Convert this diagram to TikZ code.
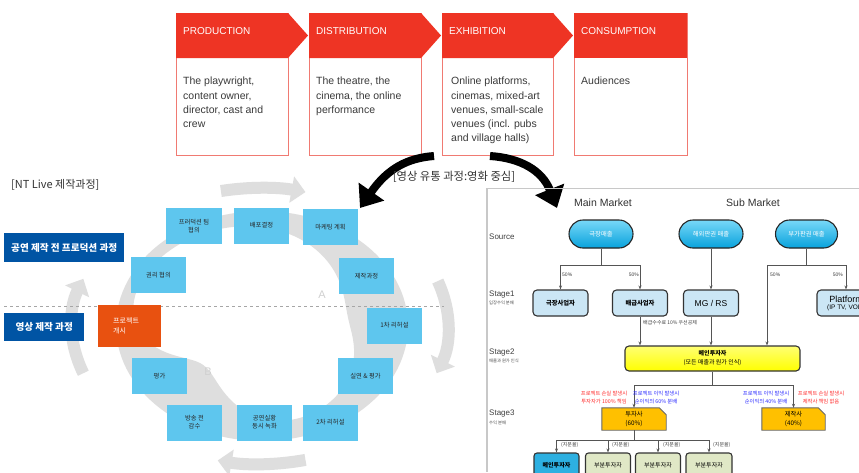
\documentclass[tikz,border=0pt]{standalone}
\usepackage{fontspec}
\setmainfont{Liberation Sans}
\newfontfamily\kr{Noto Sans CJK KR}
\usetikzlibrary{arrows.meta,shapes.misc,calc}

\definecolor{chevred}{HTML}{EE3424}
\definecolor{chevline}{HTML}{F07A72}
\definecolor{bodytext}{HTML}{3A3A3A}
\definecolor{navy}{HTML}{0054A4}
\definecolor{skybox}{HTML}{5EC6EE}
\definecolor{orangebox}{HTML}{E85110}
\definecolor{ringgray}{HTML}{DEDEDE}
\definecolor{lettergray}{HTML}{D0D0D0}
\definecolor{pillA}{HTML}{78D8F8}
\definecolor{pillB}{HTML}{08A2DC}
\definecolor{paleblue}{HTML}{CBE6F5}
\definecolor{gold}{HTML}{FFC000}
\definecolor{olive}{HTML}{E0E8C6}
\definecolor{lossred}{HTML}{FF2A2A}
\definecolor{gainblue}{HTML}{2A2AFF}
\definecolor{framegray}{HTML}{C8C8C8}
\definecolor{linkgray}{HTML}{555555}

\pgfdeclarelayer{background}
\pgfsetlayers{background,main}

\begin{document}
\begin{tikzpicture}[x=1pt,y=-1pt,
  declare function={ringw(\t)=11+48*exp(-((\t-8)/55)*((\t-8)/55))
      +50*exp(-((\t+135)/35)*((\t+135)/35))+50*exp(-((\t-225)/35)*((\t-225)/35));},
  cardline/.style={draw=chevline,line width=1pt,fill=white},
  hdr/.style={text=white,font=\fontsize{10}{12}\selectfont,anchor=west,inner sep=0pt},
  cardtext/.style={text=bodytext,font=\fontsize{10.5}{14.2}\selectfont,align=left,anchor=north west,inner sep=0pt},
  banner/.style={fill=navy,text=white,font=\kr\bfseries\fontsize{9.6}{11}\selectfont,inner sep=0pt,minimum height=29pt},
  stepbox/.style={fill=skybox,minimum width=55pt,minimum height=36pt,inner sep=1pt,
      font=\kr\fontsize{6.3}{8}\selectfont,text=black!85,align=center},
  outarrow/.style={draw=ringgray,line width=12pt,-{Triangle[width=26pt,length=14pt]}},
  bigarrow/.style={draw=black,line width=8pt,-{Triangle[width=30pt,length=20pt]}},
  pill/.style={rounded rectangle,draw=black!85,line width=1.1pt,top color=pillA,bottom color=pillB,
      minimum width=64pt,minimum height=28pt,inner sep=0pt,text=white,font=\kr\fontsize{6.3}{8}\selectfont},
  firstbox/.style={rectangle,rounded corners=4pt,draw=black!80,line width=1.1pt,fill=paleblue,
      minimum width=55pt,minimum height=26pt,inner sep=0pt,font=\kr\bfseries\fontsize{6.3}{8}\selectfont,align=center},
  mainbox/.style={rectangle,rounded corners=4pt,draw=black!80,line width=1.1pt,top color=yellow!55,bottom color=yellow,
      minimum width=175pt,minimum height=25pt,inner sep=0pt,font=\kr\fontsize{6}{9}\selectfont,align=center},
  sharebox/.style={rectangle,minimum width=64pt,minimum height=22pt,inner sep=0pt,
      font=\kr\fontsize{6.3}{9}\selectfont,align=center},
  sharefill/.style={draw=black!60,line width=0.9pt,fill=gold},
  investbox/.style={rectangle,rounded corners=3pt,draw=black!80,line width=1.1pt,fill=olive,
      minimum width=45pt,minimum height=24pt,inner sep=0pt,font=\kr\fontsize{6}{8}\selectfont},
  link/.style={draw=linkgray,line width=0.7pt},
  linkarrow/.style={draw=linkgray,line width=0.7pt,-{Stealth[length=4pt,width=3pt]}},
  tiny/.style={font=\fontsize{5}{6}\selectfont,text=black!75,inner sep=0pt},
  tinykr/.style={font=\kr\fontsize{5}{6}\selectfont,text=black!75,inner sep=0pt},
  note/.style={font=\kr\fontsize{5.3}{8}\selectfont,inner sep=0pt,align=center},
  stagelbl/.style={font=\fontsize{8}{9}\selectfont,text=black!75,anchor=west,inner sep=0pt},
  stagesub/.style={font=\kr\fontsize{4.3}{5}\selectfont,text=black!70,anchor=west,inner sep=0pt}
]
\useasboundingbox (0,0) rectangle (859,472);
\clip (0,0) rectangle (859,472);
\begin{pgfonlayer}{background}
\fill[white] (0,0) rectangle (859,472);
\end{pgfonlayer}

% ---------- value chain cards ----------
\draw[cardline] (176,13) rectangle (288,155);
\fill[chevred] (176,13) -- (288,13) -- (308,35.5) -- (288,58) -- (176,58) -- cycle;
\node[hdr] (h1) at (183,31) {PRODUCTION};
\node[cardtext] (t1) at (183,77) {The playwright,\\content owner,\\director, cast and\\crew};

\draw[cardline] (309,13) rectangle (421,155);
\fill[chevred] (309,13) -- (421,13) -- (441,35.5) -- (421,58) -- (309,58) -- cycle;
\node[hdr] (h2) at (316,31) {DISTRIBUTION};
\node[cardtext] (t2) at (316,77) {The theatre, the\\cinema, the online\\performance};

\draw[cardline] (442,13) rectangle (553,155);
\fill[chevred] (442,13) -- (553,13) -- (573,35.5) -- (553,58) -- (442,58) -- cycle;
\node[hdr] (h3) at (449,31) {EXHIBITION};
\node[cardtext] (t3) at (451,77) {Online platforms,\\cinemas, mixed-art\\venues, small-scale\\venues (incl. pubs\\and village halls)};

\draw[cardline] (574,13) rectangle (687,155);
\fill[chevred] (574,13) rectangle (687,58);
\node[hdr] (h4) at (581,31) {CONSUMPTION};
\node[cardtext] (t4) at (581,77) {Audiences};

% ---------- split arrows ----------
\coordinate (splitL) at (434,156);
\coordinate (tipL) at (360,208);
\coordinate (splitR) at (490,156);
\coordinate (tipR) at (557,208);
\draw[bigarrow] (splitL) .. controls (408,158) and (388,168) .. (tipL);
\draw[bigarrow] (splitR) .. controls (520,158) and (542,170) .. (tipR);
\node[font=\kr\fontsize{11.3}{13}\selectfont,text=black!80,inner sep=0pt] (flowtitle) at (454,177) {[영상 유통 과정:영화 중심]};

% ---------- NT Live cycle ----------
\node[font=\kr\fontsize{11}{12}\selectfont,text=black!80,anchor=west,inner sep=0pt] (ntitle) at (11,185) {[NT Live 제작과정]};

% outer circulating arrows
\draw[outarrow] ($(260,326)+(-102:188 and 138)$) arc[start angle=-102,end angle=-76,x radius=188,y radius=138];
\draw[outarrow] ($(260,326)+(-19:188 and 138)$) arc[start angle=-19,end angle=20,x radius=188,y radius=138];
\draw[outarrow] ($(260,326)+(76:188 and 138)$) arc[start angle=76,end angle=103,x radius=188,y radius=138];
\draw[outarrow] ($(260,326)+(-200:188 and 138)$) arc[start angle=-200,end angle=-160,x radius=188,y radius=138];

% inner ring of varying width
\fill[ringgray]
  plot[domain=-140:220,samples=120] ({262+146*cos(\x)},{326-115*sin(\x)})
  -- plot[domain=220:-140,samples=120] ({262+(146-ringw(\x))*cos(\x)},{326-(115-ringw(\x))*sin(\x)})
  -- cycle;
\node[font=\fontsize{11}{12}\selectfont,text=lettergray,inner sep=0pt] (lblA) at (322,295) {A};
\node[font=\fontsize{11}{12}\selectfont,text=lettergray,inner sep=0pt] (lblB) at (208,372) {B};

\draw[dashed,draw=black!35,line width=0.6pt] (4,306) -- (444,306);

\node[banner,minimum width=120pt,anchor=north west] (pre) at (4,233) {공연 제작 전 프로덕션 과정};
\node[banner,minimum width=80pt,anchor=north west,minimum height=28pt] (film) at (4,313) {영상 제작 과정};

\node[stepbox,minimum width=56pt] (team) at (194,226) {프러덕션 팀\\협의};
\node[stepbox] (deploy) at (261.5,225.5) {배포결정};
\node[stepbox] (market) at (330.5,227) {마케팅 계획};
\node[stepbox] (prodproc) at (366.5,276) {제작과정};
\node[stepbox] (rights) at (158.5,275) {권리 협의};
\node[stepbox] (reh1) at (394.5,325.5) {1차 리허설};
\node[stepbox] (perf) at (365.5,376) {실연 \& 평가};
\node[stepbox] (reh2) at (330.5,422.5) {2차 리허설};
\node[stepbox] (live) at (264.5,422.5) {공연실황\\동시 녹화};
\node[stepbox] (review) at (194.5,422.5) {방송 전\\감수};
\node[stepbox] (eval) at (159.5,376) {평가};
\node[fill=orangebox,minimum width=63pt,minimum height=42pt,inner sep=0pt,anchor=north west] (start) at (98,305) {};
\node[font=\kr\fontsize{7}{10}\selectfont,text=white,align=left,anchor=west,inner sep=0pt] (starttxt) at (start.west) [xshift=15pt] {프로젝트\\개시};

% ---------- distribution flow chart ----------
\draw[framegray,line width=0.5pt] (487,188) -- (859,188);
\draw[framegray,line width=1.8pt] (487,188) -- (487,472);

\node[font=\fontsize{10.5}{12}\selectfont,text=black!80,inner sep=0pt] (mainmk) at (603,203) {Main Market};
\node[font=\fontsize{10.5}{12}\selectfont,text=black!80,inner sep=0pt] (submk) at (753,203) {Sub Market};

\node[stagelbl] (lsrc) at (489,237) {Source};
\node[stagelbl] (ls1) at (489,295) {Stage1};
\node[stagesub] (ls1s) at (489,303) {입장수익 분배};
\node[stagelbl] (ls2) at (489,353) {Stage2};
\node[stagesub] (ls2s) at (489,361) {매출과 원가 인식};
\node[stagelbl] (ls3) at (489,414) {Stage3};
\node[stagesub] (ls3s) at (489,423) {수익 분배};

\node[pill] (src1) at (601,234) {극장매출};
\node[pill] (src2) at (711,234) {해외판권 매출};
\node[pill,minimum width=62pt] (src3) at (806.5,234) {부가판권 매출};

\node[firstbox] (theatre) at (560.5,303) {극장사업자};
\node[firstbox] (distr) at (640,303) {배급사업자};
\node[firstbox,font=\fontsize{8.5}{10}\selectfont] (mgrs) at (711,303) {MG / RS};
\node[firstbox,minimum width=58pt,font=\fontsize{6.5}{8}\selectfont] (platform) at (846,303)
   {{\fontsize{9}{10}\selectfont Platform}\\[-1pt](IP TV, VOD)};

\node[mainbox] (lead) at (712.5,358.5) {{\bfseries 메인투자자}\\(모든 매출과 원가 인식)};

\node[sharebox] (inv) at (634,419) {투자사\\(60\%)};
\node[sharebox,minimum width=63pt] (maker) at (793.5,419) {제작사\\(40\%)};
\begin{pgfonlayer}{background}
\draw[sharefill] (inv.south west) -- (inv.north west) -- ($(inv.north east)+(-7,0)$)
   -- ($(inv.north east)+(0,7)$) -- (inv.south east) -- cycle;
\draw[sharefill] (maker.south west) -- (maker.north west) -- ($(maker.north east)+(-7,0)$)
   -- ($(maker.north east)+(0,7)$) -- (maker.south east) -- cycle;
\end{pgfonlayer}

\node[investbox,fill=pillB!85,font=\kr\bfseries\fontsize{6}{8}\selectfont] (b1) at (556.5,465) {메인투자자};
\node[investbox] (b2) at (608,465) {부분투자자};
\node[investbox] (b3) at (658,465) {부분투자자};
\node[investbox,minimum width=46pt] (b4) at (709,465) {부분투자자};

% source to stage 1
\coordinate (j1) at (601,265);
\draw[link] (src1.south) -- (j1);
\draw[linkarrow] (j1) -| (theatre.north);
\draw[linkarrow] (j1) -| (distr.north);
\draw[linkarrow] (src2.south) -- (mgrs.north);
\coordinate (j3) at (806.5,265);
\coordinate (j3l) at (767,265);
\draw[link] (src3.south) -- (j3);
\draw[linkarrow] (j3) -- (j3l) -- (j3l |- lead.north);
\draw[linkarrow] (j3) -| (platform.north);
\node[tiny,anchor=west] (p1) at (562,275) {50\%};
\node[tiny,anchor=east] (p2) at (639,275) {50\%};
\node[tiny,anchor=west] (p3) at (770,275) {50\%};
\node[tiny,anchor=east] (p4) at (843,275) {50\%};

% stage 1 to stage 2
\draw[linkarrow] (distr.south) -- (distr.south |- lead.north);
\draw[linkarrow] (mgrs.south) -- (mgrs.south |- lead.north);
\node[tinykr,anchor=west] (fee) at (643,323) {배급수수료 10\% 우선공제};

% stage 2 to stage 3
\coordinate (j4) at (712.5,385);
\draw[link] (lead.south) -- (j4);
\draw[linkarrow] (j4) -| (inv.north);
\draw[linkarrow] (j4) -| (maker.north);
\node[note,text=lossred] (n1) at (604,398) {프로젝트 손실 발생시\\투자자가 100\% 책임};
\node[note,text=gainblue] (n2) at (656,398) {프로젝트 이익 발생시\\순이익의 60\% 분배};
\node[note,text=gainblue] (n3) at (766,398) {프로젝트 이익 발생시\\순이익의 40\% 분배};
\node[note,text=lossred] (n4) at (821,398) {프로젝트 손실 발생시\\제작사 책임 없음};

% investors
\coordinate (j5) at (634,440);
\draw[link] (inv.south) -- (j5);
\draw[linkarrow] (j5) -| (b1.north);
\draw[linkarrow] (j5) -| (b2.north);
\draw[linkarrow] (j5) -| (b3.north);
\draw[linkarrow] (j5) -| (b4.north);
\node[tinykr,anchor=west] (s1) at (561,445) {(지분율)};
\node[tinykr,anchor=west] (s2) at (612,445) {(지분율)};
\node[tinykr,anchor=west] (s3) at (663,445) {(지분율)};
\node[tinykr,anchor=west] (s4) at (713,445) {(지분율)};
\end{tikzpicture}
\end{document}
